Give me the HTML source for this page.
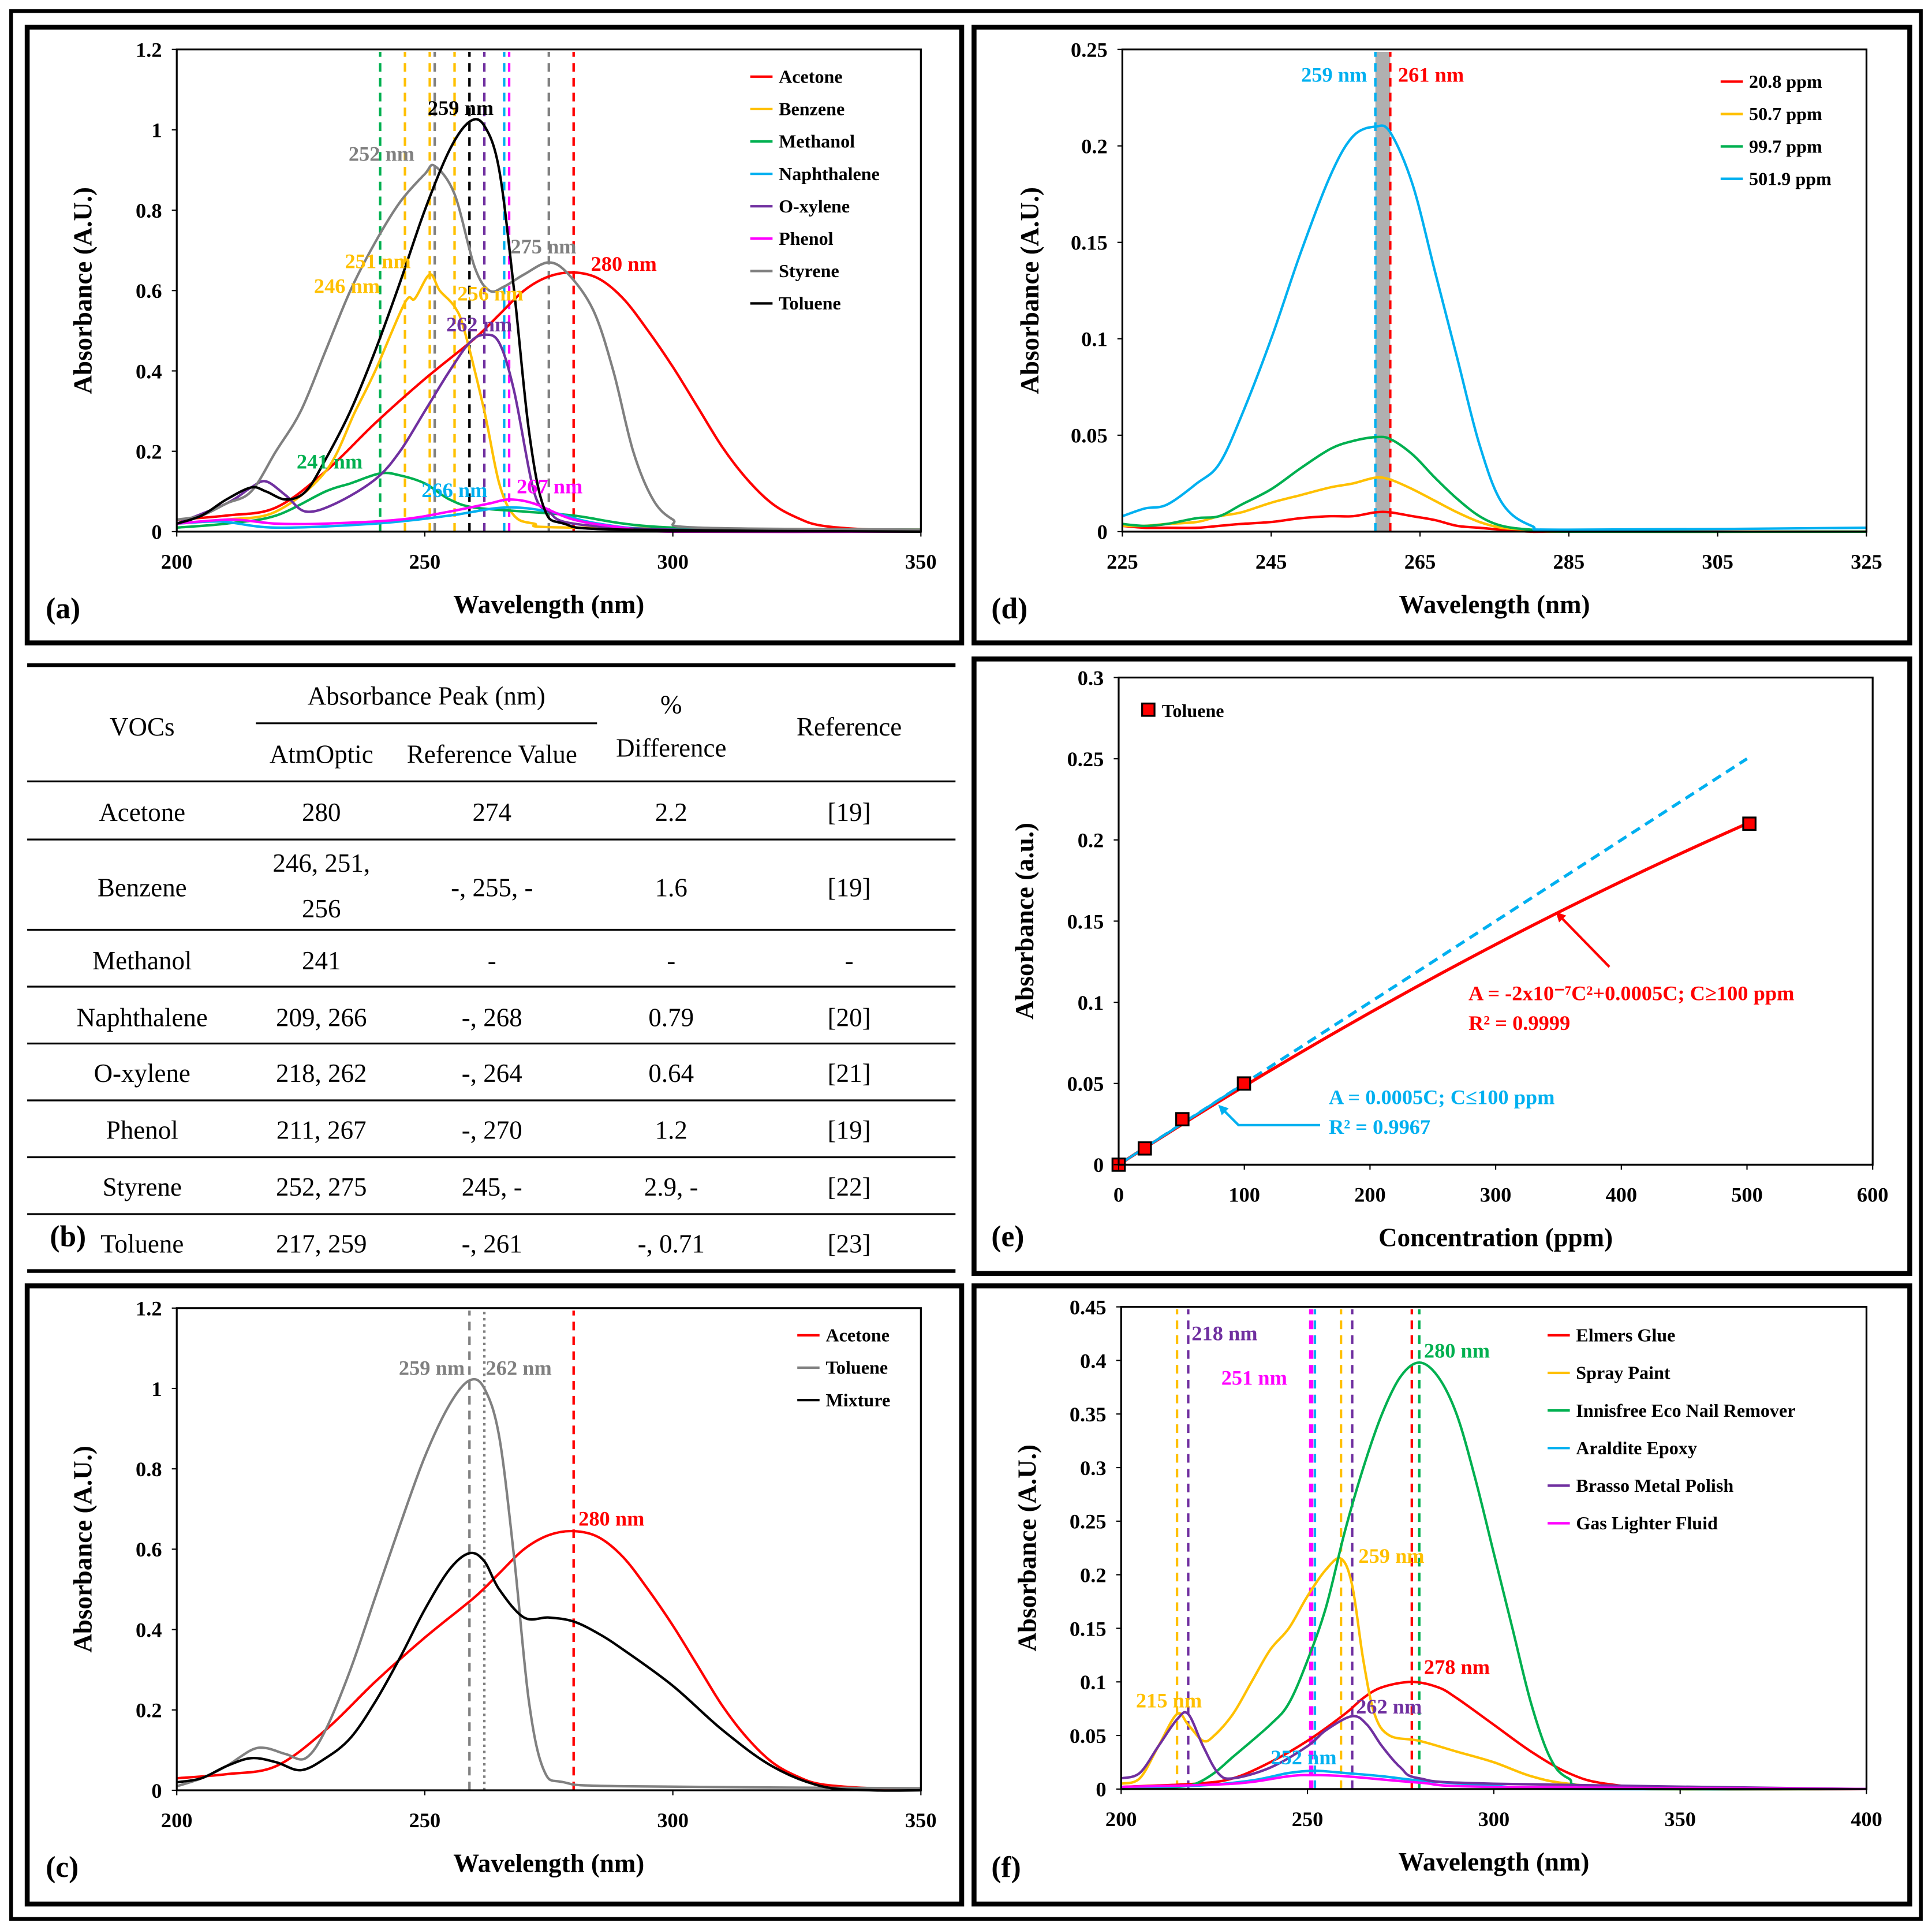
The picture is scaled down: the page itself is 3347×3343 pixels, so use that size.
<!DOCTYPE html>
<html><head><meta charset="utf-8"><style>
html,body{margin:0;padding:0;background:#fff}
svg{display:block}
text{font-family:"Liberation Serif",serif}
</style></head><body>
<svg id="fig" xmlns="http://www.w3.org/2000/svg" width="3347" height="3343" viewBox="0 0 1563 1561" preserveAspectRatio="none">
<rect x="0" y="0" width="1563" height="1561" fill="#fff"/>
<rect x="9" y="9" width="1545" height="1543" fill="none" stroke="#000" stroke-width="3"/>
<rect x="22" y="22" width="756" height="498" fill="none" stroke="#000" stroke-width="4"/>
<rect x="788" y="22" width="757" height="498" fill="none" stroke="#000" stroke-width="4"/>
<rect x="788" y="533" width="757" height="497" fill="none" stroke="#000" stroke-width="4"/>
<rect x="22" y="1040" width="756" height="500" fill="none" stroke="#000" stroke-width="4"/>
<rect x="788" y="1040" width="757" height="500" fill="none" stroke="#000" stroke-width="4"/>
<g id="table" font-size="21" text-anchor="middle">
<line x1="22" y1="538" x2="773" y2="538" stroke="#000" stroke-width="3"/>
<line x1="22" y1="1028" x2="773" y2="1028" stroke="#000" stroke-width="3"/>
<line x1="207" y1="585" x2="483" y2="585" stroke="#000" stroke-width="1.5"/>
<line x1="22" y1="632" x2="773" y2="632" stroke="#000" stroke-width="1.5"/>
<line x1="22" y1="679" x2="773" y2="679" stroke="#000" stroke-width="1.5"/>
<line x1="22" y1="752" x2="773" y2="752" stroke="#000" stroke-width="1.5"/>
<line x1="22" y1="798" x2="773" y2="798" stroke="#000" stroke-width="1.5"/>
<line x1="22" y1="844" x2="773" y2="844" stroke="#000" stroke-width="1.5"/>
<line x1="22" y1="890" x2="773" y2="890" stroke="#000" stroke-width="1.5"/>
<line x1="22" y1="936" x2="773" y2="936" stroke="#000" stroke-width="1.5"/>
<line x1="22" y1="982" x2="773" y2="982" stroke="#000" stroke-width="1.5"/>
<text x="115" y="595">VOCs</text>
<text x="345" y="570">Absorbance Peak (nm)</text>
<text x="260" y="617">AtmOptic</text>
<text x="398" y="617">Reference Value</text>
<text x="543" y="577">%</text>
<text x="543" y="612">Difference</text>
<text x="687" y="595">Reference</text>
<g><text x="115" y="664">Acetone</text><text x="260" y="664">280</text><text x="398" y="664">274</text><text x="543" y="664">2.2</text><text x="687" y="664">[19]</text></g>
<g><text x="115" y="725">Benzene</text><text x="260" y="705">246, 251,</text><text x="260" y="742">256</text><text x="398" y="725">-, 255, -</text><text x="543" y="725">1.6</text><text x="687" y="725">[19]</text></g>
<g><text x="115" y="784">Methanol</text><text x="260" y="784">241</text><text x="398" y="784">-</text><text x="543" y="784">-</text><text x="687" y="784">-</text></g>
<g><text x="115" y="830">Naphthalene</text><text x="260" y="830">209, 266</text><text x="398" y="830">-, 268</text><text x="543" y="830">0.79</text><text x="687" y="830">[20]</text></g>
<g><text x="115" y="875">O-xylene</text><text x="260" y="875">218, 262</text><text x="398" y="875">-, 264</text><text x="543" y="875">0.64</text><text x="687" y="875">[21]</text></g>
<g><text x="115" y="921">Phenol</text><text x="260" y="921">211, 267</text><text x="398" y="921">-, 270</text><text x="543" y="921">1.2</text><text x="687" y="921">[19]</text></g>
<g><text x="115" y="967">Styrene</text><text x="260" y="967">252, 275</text><text x="398" y="967">245, -</text><text x="543" y="967">2.9, -</text><text x="687" y="967">[22]</text></g>
<g><text x="115" y="1013">Toluene</text><text x="260" y="1013">217, 259</text><text x="398" y="1013">-, 261</text><text x="543" y="1013">-, 0.71</text><text x="687" y="1013">[23]</text></g>
<text x="55" y="1008" font-weight="bold" font-size="24">(b)</text>
</g>
</svg>
<script>
// ---- Panel (a) data ----
const aAcetoneX=[200,210,220,230,240,250,260,265,270,275,280,285,290,295,300,305,310,315,320,325,330,340,350];
const aAcetoneY=[0.03,0.04,0.06,0.15,0.27,0.38,0.48,0.54,0.6,0.635,0.645,0.63,0.58,0.5,0.41,0.31,0.21,0.13,0.07,0.035,0.015,0.005,0.003];
const aBenzeneX=[200,210,220,230,236,240,246,248,251,253,256,258,262,265,268,272,280,350];
const aBenzeneY=[0.02,0.03,0.05,0.15,0.3,0.4,0.57,0.58,0.64,0.6,0.56,0.5,0.3,0.12,0.04,0.02,0.01,0.005];
const aMethanolX=[200,210,220,230,235,241,245,250,255,260,270,280,300,350];
const aMethanolY=[0.01,0.02,0.04,0.1,0.12,0.145,0.14,0.12,0.08,0.06,0.05,0.04,0.01,0.005];
const aNaphX=[200,209,220,240,255,266,275,285,300,350];
const aNaphY=[0.02,0.025,0.01,0.02,0.04,0.06,0.05,0.02,0.005,0];
const aXyleneX=[200,210,215,218,222,226,232,240,245,250,255,259,262,265,268,272,275,280,300,350];
const aXyleneY=[0.02,0.07,0.11,0.125,0.09,0.05,0.07,0.13,0.2,0.3,0.4,0.47,0.49,0.47,0.35,0.1,0.05,0.02,0.005,0];
const aPhenolX=[200,211,220,230,245,255,263,267,272,280,290,300,350];
const aPhenolY=[0.02,0.03,0.02,0.02,0.03,0.05,0.07,0.08,0.07,0.03,0.01,0,0];
const aStyreneX=[200,205,210,215,220,225,230,235,240,245,250,252,256,260,263,266,270,275,279,284,288,292,296,300,305,350];
const aStyreneY=[0.03,0.04,0.07,0.1,0.2,0.3,0.45,0.6,0.72,0.82,0.89,0.91,0.84,0.66,0.6,0.61,0.64,0.67,0.64,0.55,0.4,0.2,0.08,0.03,0.01,0.005];
const aTolueneX=[200,205,210,215,218,222,226,230,235,240,245,250,255,259,262,265,268,271,274,278,290,350];
const aTolueneY=[0.02,0.04,0.08,0.11,0.1,0.08,0.1,0.18,0.3,0.45,0.62,0.8,0.95,1.02,1.01,0.9,0.6,0.25,0.06,0.02,0.005,0];
const aPeaks=[241,246,251,252,256,259,262,266,267,275,280];
const aPeakColors=["#00b050","#ffc000","#ffc000","#808080","#ffc000","#000","#7030a0","#00b0f0","#ff00ff","#808080","#ff0000"];
// ---- Panel (d) data ----
const dX=[225,228,231,235,238,241,245,249,253,256,259,261,264,267,270,273,276,280,285,325];
const d208=[0.003,0.002,0.002,0.002,0.003,0.004,0.005,0.007,0.008,0.008,0.01,0.01,0.008,0.006,0.003,0.002,0.001,0,0,0];
const d507=[0.003,0.003,0.004,0.005,0.008,0.01,0.015,0.019,0.023,0.025,0.028,0.027,0.022,0.016,0.01,0.005,0.002,0.001,0,0];
const d997=[0.004,0.003,0.004,0.007,0.008,0.014,0.022,0.033,0.043,0.047,0.049,0.048,0.04,0.028,0.017,0.008,0.003,0.001,0,0];
const d5019=[0.008,0.012,0.014,0.025,0.035,0.06,0.1,0.145,0.185,0.205,0.21,0.207,0.18,0.135,0.09,0.045,0.015,0.003,0.001,0.002];
// ---- Panel (e) data ----
const eConc=[0,20.8,50.7,99.7,501.9];
const eAbs=[0,0.01,0.028,0.05,0.21];
const eLinSlope=0.0005;
const eQuadA=-1.6e-7, eQuadB=0.00050;
// ---- Panel (c) data ----
const cAcetoneX=aAcetoneX, cAcetoneY=aAcetoneY;
const cTolueneX=[200,205,210,215,218,222,226,230,235,240,245,250,255,259,262,265,268,271,274,278,290,350];
const cTolueneY=[0.01,0.03,0.06,0.1,0.105,0.09,0.08,0.15,0.3,0.48,0.66,0.83,0.96,1.02,1.0,0.88,0.58,0.22,0.05,0.02,0.01,0.005];
const cMixX=[200,205,210,215,220,225,230,235,240,245,250,255,259,262,265,270,275,280,285,290,300,310,320,330,340,350];
const cMixY=[0.02,0.03,0.06,0.08,0.07,0.05,0.08,0.13,0.22,0.33,0.45,0.55,0.59,0.57,0.5,0.43,0.43,0.42,0.39,0.35,0.26,0.15,0.06,0.01,0,0];
// ---- Panel (f) data ----
const fElmX=[200,220,230,240,250,260,265,270,278,285,290,300,310,320,330,350,400];
const fElmY=[0.002,0.005,0.01,0.025,0.045,0.07,0.085,0.095,0.1,0.095,0.085,0.06,0.035,0.015,0.005,0,0];
const fSprayX=[200,205,210,215,218,222,225,230,235,240,245,250,255,259,262,265,268,272,280,290,300,310,320,340,400];
const fSprayY=[0.005,0.01,0.04,0.07,0.06,0.045,0.05,0.07,0.1,0.13,0.15,0.18,0.205,0.215,0.19,0.12,0.07,0.05,0.045,0.035,0.025,0.012,0.005,0,0];
const fNailX=[200,215,220,225,230,240,245,250,255,260,265,270,275,280,285,290,295,300,305,310,315,320,330,400];
const fNailY=[0,0.002,0.005,0.015,0.03,0.06,0.08,0.12,0.17,0.24,0.3,0.35,0.385,0.398,0.385,0.35,0.29,0.22,0.15,0.08,0.03,0.01,0.002,0];
const fEpoxyX=[200,220,235,245,252,260,270,280,300,320,400];
const fEpoxyY=[0.002,0.003,0.008,0.015,0.017,0.015,0.012,0.008,0.003,0,0];
const fBrassoX=[200,205,210,215,218,222,226,230,240,250,255,262,266,270,275,280,300,400];
const fBrassoY=[0.01,0.015,0.04,0.065,0.07,0.04,0.015,0.01,0.02,0.04,0.055,0.068,0.06,0.04,0.02,0.01,0.005,0];
const fGasX=[200,230,245,251,260,280,300,400];
const fGasY=[0.002,0.005,0.012,0.013,0.012,0.006,0.002,0];
const fPeaks=[215,218,251,252,259,262,278,280];
const fPeakColors=["#ffc000","#7030a0","#ff00ff","#00b0f0","#ffc000","#7030a0","#ff0000","#00b050"];

const NS="http://www.w3.org/2000/svg";
const svg=document.getElementById('fig');
function mk(tag,attrs,parent){const e=document.createElementNS(NS,tag);for(const k in attrs)e.setAttribute(k,attrs[k]);(parent||svg).appendChild(e);return e;}
function txt(s,attrs,parent){const e=mk('text',attrs,parent);e.textContent=s;return e;}
function scale(d0,d1,r0,r1){return v=>r0+(v-d0)*(r1-r0)/(d1-d0);}
function smooth(pts){let d='M'+pts[0][0].toFixed(2)+','+pts[0][1].toFixed(2);for(let i=0;i<pts.length-1;i++){const p0=pts[Math.max(0,i-1)],p1=pts[i],p2=pts[i+1],p3=pts[Math.min(pts.length-1,i+2)];const c1=[p1[0]+(p2[0]-p0[0])/6,p1[1]+(p2[1]-p0[1])/6],c2=[p2[0]-(p3[0]-p1[0])/6,p2[1]-(p3[1]-p1[1])/6];d+='C'+c1[0].toFixed(2)+','+c1[1].toFixed(2)+' '+c2[0].toFixed(2)+','+c2[1].toFixed(2)+' '+p2[0].toFixed(2)+','+p2[1].toFixed(2);}return d;}

function axes(p){
  const g=mk('g',{});
  
  
  p.xt.forEach(v=>{const t=txt(String(v),{x:p.sx(v),y:p.y1+30,'font-size':17,'font-weight':'bold','text-anchor':'middle'},g);
    
    
    mk('line',{x1:p.sx(v),x2:p.sx(v),y1:p.y1,y2:p.y1+4,stroke:'#000','stroke-width':1},g);});
  p.yt.forEach(v=>{const t=txt(String(v),{x:p.x0-12,y:p.sy(v)+6,'font-size':17,'font-weight':'bold','text-anchor':'end'},g);
    
    
    mk('line',{x1:p.x0-4,x2:p.x0,y1:p.sy(v),y2:p.sy(v),stroke:'#000','stroke-width':1},g);});
  const xt=txt(p.xtitle,{x:(p.x0+p.x1)/2,y:p.y1+66,'font-size':21,'font-weight':'bold','text-anchor':'middle'},g);
  
  
  const yc=(p.y0+p.y1)/2;
  const yt=txt(p.ytitle,{x:p.ytx,y:yc,'font-size':21,'font-weight':'bold','text-anchor':'middle',transform:'rotate(-90 '+p.ytx+' '+yc+')'},g);
  
  
  const lb=txt(p.label,{x:p.lx,y:p.ly,'font-size':24,'font-weight':'bold'},g);
  
  
  return g;
}
function frame(p){const r=mk('rect',{x:p.x0,y:p.y0,width:p.x1-p.x0,height:p.y1-p.y0,fill:'none',stroke:'#000','stroke-width':1.5});
  
  }
function series(p,xs,ys,color,name,w){const e=mk('path',{d:smooth(xs.map((x,i)=>[p.sx(x),p.sy(ys[i])])),fill:'none',stroke:color,'stroke-width':w||2});
  
  }
function vline(p,x,color,name,w,dash){const e=mk('line',{x1:p.sx(x),x2:p.sx(x),y1:p.y1,y2:p.y0+2,stroke:color,'stroke-width':w||2,'stroke-dasharray':dash||'7,5'});
  
  }
function label(s,x,y,color,name,anchor){const e=txt(s,{x:x,y:y,fill:color,'font-size':17,'font-weight':'bold','text-anchor':anchor||'start'});
  
  }
function legend(items,lx,ly0,dy,tag){items.forEach((it,i)=>{const y=ly0+i*dy;
  const l=mk('line',{x1:lx,x2:lx+18,y1:y,y2:y,stroke:it[1],'stroke-width':2});
  
  
  const t=txt(it[0],{x:lx+23,y:y+5,'font-size':15,'font-weight':'bold'});
  
  });}

// Panel a
const A={name:'panel-a',x0:143,x1:745,y0:40,y1:430,sx:scale(200,350,143,745),sy:scale(0,1.2,430,40),xt:[200,250,300,350],yt:[0,0.2,0.4,0.6,0.8,1,1.2],xtitle:'Wavelength (nm)',ytitle:'Absorbance (A.U.)',ytx:74,label:'(a)',lx:37,ly:500};
aPeaks.forEach((v,i)=>vline(A,v,aPeakColors[i],'peak-line-a'));
series(A,aAcetoneX,aAcetoneY,'#ff0000','acetone-line');
series(A,aBenzeneX,aBenzeneY,'#ffc000','benzene-line');
series(A,aMethanolX,aMethanolY,'#00b050','methanol-line');
series(A,aNaphX,aNaphY,'#00b0f0','naphthalene-line');
series(A,aXyleneX,aXyleneY,'#7030a0','o-xylene-line');
series(A,aPhenolX,aPhenolY,'#ff00ff','phenol-line');
series(A,aStyreneX,aStyreneY,'#808080','styrene-line');
series(A,aTolueneX,aTolueneY,'#000','toluene-line');
frame(A);axes(A);
[['259 nm',346,93,'#000'],['252 nm',282,130,'#808080'],['251 nm',279,217,'#ffc000'],['246 nm',254,237,'#ffc000'],['256 nm',370,243,'#ffc000'],['262 nm',361,268,'#7030a0'],['275 nm',413,205,'#808080'],['280 nm',478,219,'#ff0000'],['241 nm',240,379,'#00b050'],['266 nm',341,402,'#00b0f0'],['267 nm',418,399,'#ff00ff']].forEach(l=>label(l[0],l[1],l[2],l[3],'peak-label-a'));
legend([['Acetone','#ff0000'],['Benzene','#ffc000'],['Methanol','#00b050'],['Naphthalene','#00b0f0'],['O-xylene','#7030a0'],['Phenol','#ff00ff'],['Styrene','#808080'],['Toluene','#000']],607,62,26.2,'panel-a');

// Panel d
const D={name:'panel-d',x0:908,x1:1510,y0:40,y1:430,sx:scale(225,325,908,1510),sy:scale(0,0.25,430,40),xt:[225,245,265,285,305,325],yt:[0,0.05,0.1,0.15,0.2,0.25],xtitle:'Wavelength (nm)',ytitle:'Absorbance (A.U.)',ytx:840,label:'(d)',lx:802,ly:500};
const band=mk('rect',{x:D.sx(259),y:D.y0+2,width:D.sx(261)-D.sx(259),height:D.y1-D.y0-2,fill:'#b0b0b0'});


vline(D,259,'#00b0f0','peak-line-259');vline(D,261,'#ff0000','peak-line-261');
series(D,dX,d208,'#ff0000','ppm-20-8-line');
series(D,dX,d507,'#ffc000','ppm-50-7-line');
series(D,dX,d997,'#00b050','ppm-99-7-line');
series(D,dX,d5019,'#00b0f0','ppm-501-9-line');
frame(D);axes(D);
label('259 nm',1106,66,'#00b0f0','peak-label-259','end');label('261 nm',1131,66,'#ff0000','peak-label-261');
legend([['20.8 ppm','#ff0000'],['50.7 ppm','#ffc000'],['99.7 ppm','#00b050'],['501.9 ppm','#00b0f0']],1392,66,26.2,'panel-d');

// Panel e
const E={name:'panel-e',x0:905,x1:1515,y0:548,y1:942,sx:scale(0,600,905,1515),sy:scale(0,0.3,942,548),xt:[0,100,200,300,400,500,600],yt:[0,0.05,0.1,0.15,0.2,0.25,0.3],xtitle:'Concentration (ppm)',ytitle:'Absorbance (a.u.)',ytx:836,label:'(e)',lx:802,ly:1008};
const lin=mk('line',{x1:E.sx(0),y1:E.sy(0),x2:E.sx(500),y2:E.sy(eLinSlope*500),stroke:'#00b0f0','stroke-width':2.5,'stroke-dasharray':'8,5'});


const qpts=[];for(let c=0;c<=eConc[eConc.length-1];c+=10){qpts.push([E.sx(c),E.sy(eQuadA*c*c+eQuadB*c)]);}
const maxC=eConc[eConc.length-1];qpts.push([E.sx(maxC),E.sy(eAbs[eAbs.length-1])]);
const quad=mk('path',{d:smooth(qpts),fill:'none',stroke:'#ff0000','stroke-width':2.5});


const lin2=mk('line',{x1:E.sx(0),y1:E.sy(0),x2:E.sx(100),y2:E.sy(eLinSlope*100),stroke:'#00b0f0','stroke-width':2});


eConc.forEach((c,i)=>{const r=mk('rect',{x:E.sx(c)-5,y:E.sy(eAbs[i])-5,width:10,height:10,fill:'#ff0000',stroke:'#000','stroke-width':1.5});
  
  });
frame(E);axes(E);
const lsq=mk('rect',{x:924,y:569,width:10,height:10,fill:'#ff0000',stroke:'#000','stroke-width':1.5});


const lt=txt('Toluene',{x:940,y:580,'font-size':15,'font-weight':'bold'});


const defs=mk('defs',{});
const mkr=mk('marker',{id:'ar',markerWidth:8,markerHeight:8,refX:6,refY:4,orient:'auto',markerUnits:'userSpaceOnUse'},defs);mk('path',{d:'M0,0 L8,4 L0,8 z',fill:'#ff0000'},mkr);
const mkb=mk('marker',{id:'ab',markerWidth:8,markerHeight:8,refX:6,refY:4,orient:'auto',markerUnits:'userSpaceOnUse'},defs);mk('path',{d:'M0,0 L8,4 L0,8 z',fill:'#00b0f0'},mkb);
const ar=mk('line',{x1:1302,y1:782,x2:1260,y2:739,stroke:'#ff0000','stroke-width':2,'marker-end':'url(#ar)'});


const ab=mk('polyline',{points:'1068,910 1002,910 987,895',fill:'none',stroke:'#00b0f0','stroke-width':2,'marker-end':'url(#ab)'});


label('A = -2x10⁻⁷C²+0.0005C; C≥100 ppm',1188,809,'#ff0000','quadratic-equation');
label('R² = 0.9999',1188,833,'#ff0000','quadratic-r2');
label('A = 0.0005C; C≤100 ppm',1075,893,'#00b0f0','linear-equation');
label('R² = 0.9967',1075,917,'#00b0f0','linear-r2');

// Panel c
const C={name:'panel-c',x0:143,x1:745,y0:1058,y1:1448,sx:scale(200,350,143,745),sy:scale(0,1.2,1448,1058),xt:[200,250,300,350],yt:[0,0.2,0.4,0.6,0.8,1,1.2],xtitle:'Wavelength (nm)',ytitle:'Absorbance (A.U.)',ytx:74,label:'(c)',lx:37,ly:1518};
vline(C,259,'#808080','peak-line-259');vline(C,262,'#808080','peak-line-262',2,'2,3');vline(C,280,'#ff0000','peak-line-280');
series(C,cAcetoneX,cAcetoneY,'#ff0000','acetone-line');
series(C,cTolueneX,cTolueneY,'#808080','toluene-line');
series(C,cMixX,cMixY,'#000','mixture-line');
frame(C);axes(C);
label('259 nm',376,1112,'#808080','peak-label-259','end');label('262 nm',393,1112,'#808080','peak-label-262');label('280 nm',468,1234,'#ff0000','peak-label-280');
legend([['Acetone','#ff0000'],['Toluene','#808080'],['Mixture','#000']],645,1080,26.2,'panel-c');

// Panel f
const F={name:'panel-f',x0:907,x1:1510,y0:1057,y1:1447,sx:scale(200,400,907,1510),sy:scale(0,0.45,1447,1057),xt:[200,250,300,350,400],yt:[0,0.05,0.1,0.15,0.2,0.25,0.3,0.35,0.4,0.45],xtitle:'Wavelength (nm)',ytitle:'Absorbance (A.U.)',ytx:838,label:'(f)',lx:802,ly:1518};
fPeaks.forEach((v,i)=>vline(F,v,fPeakColors[i],'peak-line-f',v===251?3.5:2));
series(F,fElmX,fElmY,'#ff0000','elmers-glue-line');
series(F,fSprayX,fSprayY,'#ffc000','spray-paint-line');
series(F,fNailX,fNailY,'#00b050','nail-remover-line');
series(F,fEpoxyX,fEpoxyY,'#00b0f0','araldite-epoxy-line');
series(F,fBrassoX,fBrassoY,'#7030a0','brasso-polish-line');
series(F,fGasX,fGasY,'#ff00ff','gas-lighter-line');
frame(F);axes(F);
[['218 nm',964,1084,'#7030a0'],['251 nm',988,1120,'#ff00ff'],['280 nm',1152,1098,'#00b050'],['259 nm',1099,1264,'#ffc000'],['278 nm',1152,1354,'#ff0000'],['215 nm',919,1381,'#ffc000'],['262 nm',1097,1386,'#7030a0'],['252 nm',1028,1427,'#00b0f0']].forEach(l=>label(l[0],l[1],l[2],l[3],'peak-label-f'));
legend([['Elmers Glue','#ff0000'],['Spray Paint','#ffc000'],['Innisfree Eco Nail Remover','#00b050'],['Araldite Epoxy','#00b0f0'],['Brasso Metal Polish','#7030a0'],['Gas Lighter Fluid','#ff00ff']],1252,1080,30.4,'panel-f');
</script>
</body></html>
